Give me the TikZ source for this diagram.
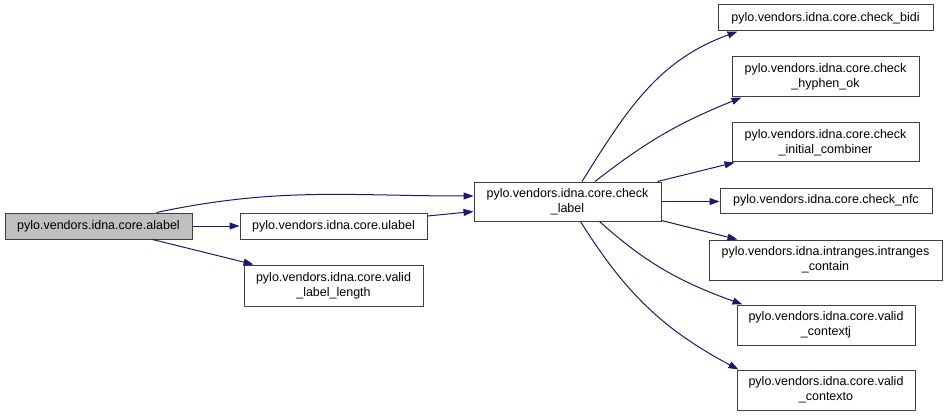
\documentclass[tikz,border=0pt]{standalone}
\usepackage{fontspec}
\setmainfont{Liberation Sans}
\usepackage{xcolor}
\usepackage{tikz}
\usetikzlibrary{arrows.meta,positioning,calc}

\definecolor{edgeblue}{HTML}{191970}
\definecolor{boxgray}{HTML}{BFBFBF}

\begin{document}
\begin{tikzpicture}[
      x = 1pt, y = -1pt,
      every node/.style = {draw=black!75, line width=1pt, rectangle, inner sep=0pt, align=center,
                           font=\fontsize{12.5}{15}\selectfont},
      fn/.style 2 args = {minimum width=#1pt, minimum height=#2pt},
      call/.style = {draw=edgeblue, line width=1pt, -{Triangle[length=10pt,width=7pt]}}
    ]
    \useasboundingbox (0,0) rectangle (948,417);

    % caller and its direct callees
    \node[fn={187}{26}, fill=boxgray] (alabel) at (98.5,226) {pylo.vendors.idna.core.alabel};
    \node[fn={187}{26}] (ulabel) at (333.5,226) {pylo.vendors.idna.core.ulabel};
    \node[fn={179}{41}] (validlen) at (333.5,285.5) {pylo.vendors.idna.core.valid\\\_label\_length};
    \node[fn={187}{39}] (checklabel) at (567.5,201.5) {pylo.vendors.idna.core.check\\\_label};

    % callees of check_label
    \node[fn={215}{26}] (bidi) at (825.5,18) {pylo.vendors.idna.core.check\_bidi};
    \node[fn={187}{40}] (hyphen) at (825.5,77) {pylo.vendors.idna.core.check\\\_hyphen\_ok};
    \node[fn={187}{39}] (combiner) at (825.5,142.5) {pylo.vendors.idna.core.check\\\_initial\_combiner};
    \node[fn={212}{25}] (nfc) at (826,200.5) {pylo.vendors.idna.core.check\_nfc};
    \node[fn={233}{40}] (intranges) at (825.5,260) {pylo.vendors.idna.intranges.intranges\\\_contain};
    \node[fn={178}{40}] (contextj) at (826,325) {pylo.vendors.idna.core.valid\\\_contextj};
    \node[fn={178}{40}] (contexto) at (826,390) {pylo.vendors.idna.core.valid\\\_contexto};

    % calls
    \draw[call] ([xshift=58pt]alabel.north) to[out=12,in=180] ([yshift=5.5pt]checklabel.west);
    \draw[call] (alabel) -- (ulabel);
    \draw[call] ([xshift=54pt]alabel.south) -- ([xshift=-80pt]validlen.north);
    \draw[call] ([yshift=10pt]ulabel.east) -- ([yshift=-10pt]checklabel.west);

    \draw[call] ([xshift=14.5pt]checklabel.north) to[out=58,in=200] ([xshift=20pt]bidi.south west);
    \draw[call] ([xshift=27.5pt]checklabel.north) to[out=38,in=202] ([xshift=10pt]hyphen.south west);
    \draw[call] ([xshift=-4pt]checklabel.north east) -- ([xshift=3pt]combiner.south west);
    \draw[call] (checklabel.east) -- (checklabel.east -| nfc.west);
    \draw[call] ([yshift=1pt]checklabel.south east) -- ([xshift=29pt]intranges.north west);
    \draw[call] ([xshift=32pt]checklabel.south) to[out=-42,in=160] ([xshift=6pt]contextj.north west);
    \draw[call] ([xshift=13pt]checklabel.south) to[out=-58,in=152] ([xshift=2pt]contexto.north west);
  \end{tikzpicture}
\end{document}
